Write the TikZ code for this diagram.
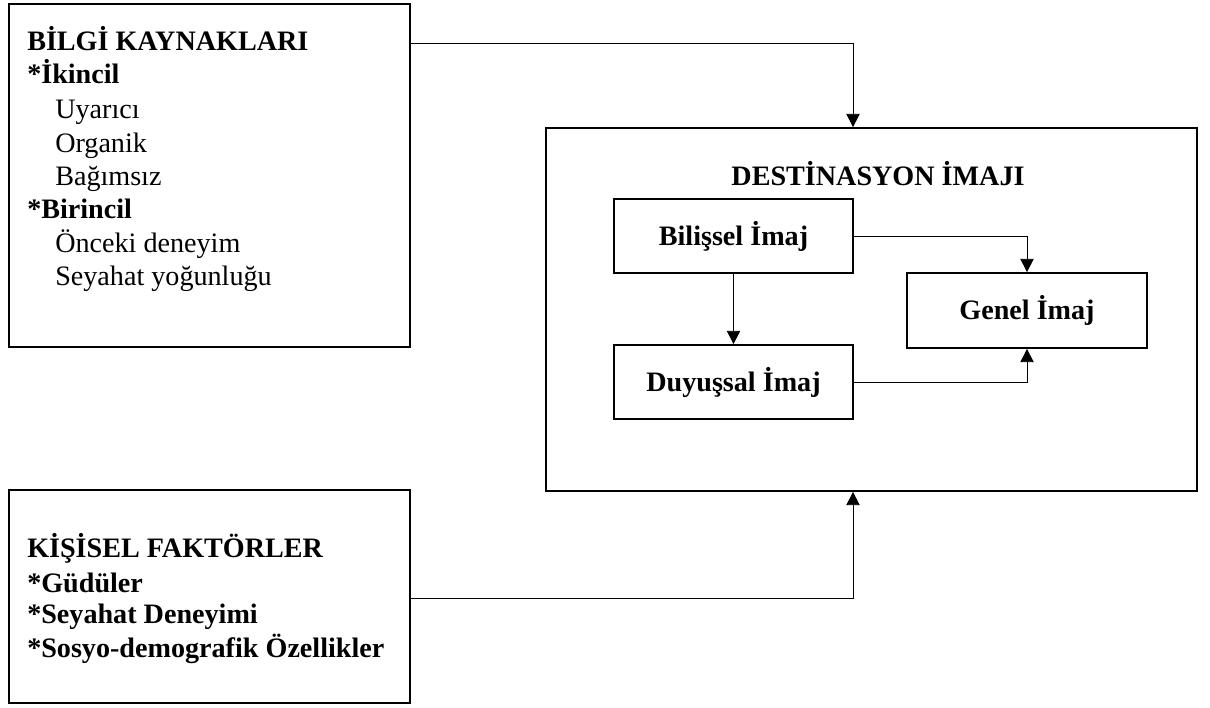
\documentclass[tikz,border=0pt]{standalone}
\usepackage{fontspec}
\setmainfont{Liberation Serif}
\usetikzlibrary{arrows.meta, positioning}
\newcommand{\bodyfont}{\fontsize{21.1}{25}\selectfont}
\tikzset{
    panel/.style={draw, line width=1.3pt, rectangle, inner sep=0pt},
    imgbox/.style={draw, line width=1.3pt, rectangle, inner sep=0pt, font=\bodyfont\bfseries},
    flow/.style={line width=0.7pt, -{Triangle[length=10pt, width=10pt]}},
    item/.style={anchor=base west, inner sep=0pt, font=\bodyfont},
}

\begin{document}
\begin{tikzpicture}[x=0.75pt, y=-0.75pt]
    \def \px {0.75pt}
    \useasboundingbox (0,0) rectangle (1210,707);
    % left side
    \node[panel, minimum width=401*\px, minimum height=343*\px] (kaynak) at (209.5,175.5) {};
    \node[panel, minimum width=401*\px, minimum height=213*\px] (kisisel) at (209.5,596.5) {};
    \foreach \dx/\dy/\txt [count=\i] in {0/50/{\bfseries BİLGİ KAYNAKLARI}, 0/83/{\bfseries *İkincil}, 28/118/Uyarıcı, 28/152/Organik, 28/185/Bağımsız, 0/218/{\bfseries *Birincil}, 28/252/Önceki deneyim, 28/285/Seyahat yoğunluğu}
        \node[item] (k\i) at (27+\dx,\dy) {\txt};
    \foreach \dy/\txt [count=\i] in {557/KİŞİSEL FAKTÖRLER, 592/*Güdüler, 623/*Seyahat Deneyimi, 657/*Sosyo-demografik Özellikler}
        \node[item] (f\i) at (27,\dy) {\bfseries \txt};
    % destination image
    \node[panel, minimum width=651*\px, minimum height=363*\px] (imaj) at (871.5,309.5) {};
    \node[anchor=base, inner sep=0pt, font=\bodyfont\bfseries] (baslik) at (878,185) {DESTİNASYON İMAJI};
    \node[imgbox, minimum width=239*\px, minimum height=74*\px] (bilissel) at (733.5,236) {Bilişsel İmaj};
    \node[imgbox, minimum width=239*\px, minimum height=74*\px] (duyussal) at (733.5,382) {Duyuşsal İmaj};
    \node[imgbox, minimum width=240*\px, minimum height=75*\px] (genel) at (1027,310.5) {Genel İmaj};
    \coordinate (j1) at (853,43);
    \coordinate (j2) at (853,598);
    % connectors
    \draw[flow] (kaynak.east |- j1) -- (j1) -- (j1 |- imaj.north);
    \draw[flow] (kisisel.east |- j2) -- (j2) -- (j2 |- imaj.south);
    \draw[flow] (bilissel) -- (duyussal);
    \draw[flow] (bilissel.east) -| (genel.north);
    \draw[flow] (duyussal.east) -| (genel.south);
\end{tikzpicture}
\end{document}
